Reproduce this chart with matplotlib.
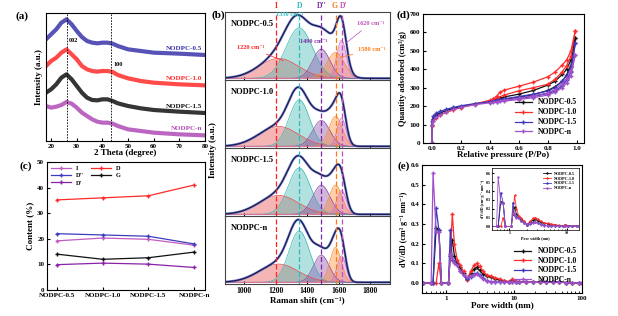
import matplotlib
matplotlib.use('Agg')
import matplotlib.pyplot as plt
import numpy as np

plt.rcParams['font.family'] = ['Liberation Serif', 'DejaVu Serif']
plt.rcParams['font.weight'] = 'bold'
plt.rcParams['axes.labelweight'] = 'bold'
plt.rcParams['axes.linewidth'] = 0.8
plt.rcParams['xtick.direction'] = 'in'
plt.rcParams['ytick.direction'] = 'in'
plt.rcParams['xtick.major.size'] = 2.5
plt.rcParams['ytick.major.size'] = 2.5
plt.rcParams['xtick.minor.size'] = 1.5
plt.rcParams['ytick.minor.size'] = 1.5
plt.rcParams['xtick.major.pad'] = 2
plt.rcParams['ytick.major.pad'] = 2

samples = ['NODPC-0.5', 'NODPC-1.0', 'NODPC-1.5', 'NODPC-n']
col_blue = '#3a34aa'
col_red = '#ff2a2a'
col_black = '#111111'
col_mag = '#b04cb8'

# ---- (a) XRD
xrd_x = [18, 20, 22, 24, 26, 28, 30, 32, 34, 36, 38, 40, 42, 44, 46, 50, 55, 60, 70, 80]
xrd_05 = [305, 320, 335, 355, 365, 350, 330, 312, 300, 295, 293, 295, 295, 292, 285, 275, 270, 265, 262, 258]
xrd_10 = [225, 240, 250, 265, 275, 260, 245, 225, 215, 210, 208, 210, 210, 207, 198, 188, 180, 175, 170, 167]
xrd_15 = [145, 155, 170, 190, 200, 185, 165, 145, 130, 123, 122, 125, 125, 120, 113, 105, 98, 93, 88, 84]
xrd_n = [105, 100, 103, 108, 117, 112, 100, 85, 75, 65, 58, 55, 55, 52, 45, 35, 30, 25, 20, 17]
xrd_label_y = [277, 187, 102, 37]

# ---- (b) Raman peak fits (center, height, width read per sample)
peak_names = ['I', 'D', "D''", 'G', "D'"]
peak_centers = [1220, 1350, 1490, 1580, 1618]
peak_lines = [1205, 1350, 1490, 1580, 1620]
peak_heights = [[60, 152, 88, 78, 115],
                [60, 140, 78, 90, 85],
                [57, 140, 88, 88, 72],
                [55, 155, 82, 105, 80]]
peak_widths = [[125, 85, 55, 55, 30],
               [125, 65, 55, 42, 28],
               [125, 70, 55, 40, 30],
               [125, 65, 50, 36, 28]]
peak_colors = ['#e84848', '#3cb8b0', '#8a4aa8', '#ff8a2a', '#d070c4']
peak_text = ['#ff2020', '#30b8c0', '#7a2aa0', '#ff7a10', '#c050b8']

# ---- (c) content
content_x = samples
c_I = [19.2, 20.3, 19.8, 17.5]
c_D = [35.2, 36.0, 36.8, 41.0]
c_D2 = [22.0, 21.5, 21.0, 18.0]
c_G = [14.0, 12.0, 12.6, 14.8]
c_D1 = [9.9, 10.5, 10.1, 8.8]

# ---- (d) N2 isotherms
p_ads = [0.0, 0.002, 0.01, 0.03, 0.06, 0.1, 0.15, 0.2, 0.3, 0.4, 0.45, 0.5, 0.6, 0.7, 0.8, 0.85, 0.9, 0.93, 0.96, 0.99]
p_des = [0.99, 0.96, 0.93, 0.9, 0.85, 0.8, 0.7, 0.6, 0.5, 0.47, 0.45, 0.42]
ads_05 = [0, 100, 130, 150, 163, 176, 188, 198, 212, 225, 231, 237, 248, 262, 285, 305, 335, 370, 420, 570]
des_05 = [570, 450, 400, 372, 335, 314, 285, 265, 250, 242, 237, 228]
ads_10 = [0, 90, 118, 138, 152, 166, 180, 192, 212, 232, 245, 260, 283, 300, 319, 345, 387, 420, 470, 610]
des_10 = [610, 500, 450, 423, 385, 359, 330, 308, 287, 275, 255, 240]
ads_15 = [0, 120, 145, 162, 172, 183, 193, 202, 214, 224, 228, 233, 242, 252, 268, 282, 310, 340, 385, 540]
des_15 = [540, 410, 365, 335, 300, 282, 265, 252, 240, 236, 232, 226]
ads_n = [0, 95, 120, 140, 153, 168, 182, 193, 208, 218, 222, 227, 236, 246, 260, 275, 300, 325, 365, 480]
des_n = [480, 390, 350, 322, 290, 272, 256, 244, 233, 229, 225, 220]

# ---- (e) pore size distribution
pore_w = [0.45, 0.60, 0.64, 0.71, 0.78, 0.85, 1.08, 1.15, 1.23, 1.32, 1.45, 1.6, 1.8, 2.0, 2.3, 2.55, 2.8,
          3.1, 3.5, 4.0, 4.6, 5.3, 6.2, 7.2, 8.3, 9.3, 10.5, 12, 15, 19, 24, 30, 37, 46, 58, 72, 90, 100]
psd_05 = [0, 0, 0, 0.28, 0.27, 0, 0, 0.14, 0.22, 0.14, 0.10, 0.08, 0.05, 0.02, 0.05, 0.07, 0.08, 0.065, 0.045,
          0.035, 0.03, 0.022, 0.015, 0.01, 0.008, 0.015, 0.008, 0.006, 0.005, 0.005, 0.004, 0.004, 0.008, 0.005,
          0.003, 0.002, 0.001, 0.001]
psd_10 = [0, 0, 0, 0, 0.10, 0, 0, 0.15, 0.35, 0.20, 0.12, 0.09, 0.06, 0.015, 0.06, 0.09, 0.10, 0.085, 0.06,
          0.04, 0.035, 0.028, 0.02, 0.012, 0.008, 0.02, 0.01, 0.006, 0.005, 0.005, 0.004, 0.005, 0.008, 0.005,
          0.003, 0.002, 0.001, 0.001]
psd_15 = [0, 0, 0, 0.38, 0.27, 0, 0, 0.27, 0.12, 0.11, 0.09, 0.06, 0.04, 0.02, 0.03, 0.045, 0.05, 0.04, 0.025,
          0.012, 0.008, 0.006, 0.005, 0.004, 0.004, 0.005, 0.004, 0.004, 0.004, 0.004, 0.004, 0.005, 0.008, 0.005,
          0.003, 0.002, 0.001, 0.001]
psd_n = [0, 0, 0.56, 0.26, 0.26, 0, 0, 0.15, 0.13, 0.10, 0.09, 0.06, 0.04, 0.03, 0.035, 0.04, 0.045, 0.035, 0.02,
         0.01, 0.007, 0.005, 0.005, 0.004, 0.004, 0.005, 0.004, 0.004, 0.004, 0.004, 0.004, 0.005, 0.008, 0.005,
         0.003, 0.002, 0.001, 0.001]

W, H = 618, 316


def box(l, t, r, b):
    return [l / W, 1 - b / H, (r - l) / W, (b - t) / H]


fig = plt.figure(figsize=(6.18, 3.16), dpi=100)

# ================= (a)
ax = fig.add_axes(box(46, 13, 205, 141))
xrd = [xrd_05, xrd_10, xrd_15, xrd_n]
cols = [col_blue, col_red, col_black, col_mag]
for i in range(4):
    ax.plot(xrd_x, xrd[i], color=cols[i], lw=3.0, alpha=0.85)
    ax.text(79, xrd_label_y[i], samples[i], color=cols[i], fontsize=5, ha='right', va='center')
ax.axvline(26, color='k', lw=0.6, ls=(0, (2, 1.5)))
ax.axvline(43.5, color='k', lw=0.6, ls=(0, (2, 1.5)))
ax.text(26.8, 297, '002', fontsize=4.5)
ax.text(44.3, 225, '100', fontsize=4.5)
ax.set_xlim(18, 80)
ax.set_ylim(0, 384)
ax.set_yticks([])
ax.set_xticks([20, 30, 40, 50, 60, 70, 80])
ax.tick_params(labelsize=5)
ax.set_xlabel('2 Theta (degree)', fontsize=6.5, labelpad=0)
ax.set_ylabel('Intensity (a.u.)', fontsize=6.5, labelpad=2)
fig.text(16 / W, 1 - 16 / H, '(a)', fontsize=8, va='center')

# ================= (c)
ax = fig.add_axes(box(47, 162, 205, 290))
xi = np.arange(len(content_x))
hI, = ax.plot(xi, c_I, color='#c05cc0', lw=0.9, marker='+', ms=2.5, label='I')
hD, = ax.plot(xi, c_D, color=col_red, lw=0.9, marker='+', ms=2.5, label='D')
hD2, = ax.plot(xi, c_D2, color='#3c3cc0', lw=0.9, marker='+', ms=2.5, label="D''")
hG, = ax.plot(xi, c_G, color=col_black, lw=0.9, marker='+', ms=2.5, label='G')
hD1, = ax.plot(xi, c_D1, color='#8a22a8', lw=0.9, marker='+', ms=2.5, label="D'")
ax.set_xlim(-0.22, 3.24)
ax.set_ylim(0, 50)
ax.set_xticks(xi)
ax.set_xticklabels(content_x)
ax.set_yticks([0, 10, 20, 30, 40, 50])
ax.tick_params(labelsize=5)
ax.set_ylabel('Content (%)', fontsize=6.5, labelpad=2)
ax.legend(handles=[hI, hD2, hD1, hD, hG], loc='upper left', ncol=2, fontsize=4.5, frameon=False,
          handlelength=3.2, columnspacing=1.2, labelspacing=0.3, borderaxespad=0.2)
fig.text(20 / W, 1 - 166 / H, '(c)', fontsize=8, va='center')

# ================= (b)
rx = np.arange(880, 1926, 2.0)
tops = [12, 80, 148, 216]
for k in range(4):
    ax = fig.add_axes(box(225, tops[k], 390, tops[k] + 68))
    total = np.zeros_like(rx)
    for j in range(5):
        g = peak_heights[k][j] * np.exp(-0.5 * ((rx - peak_centers[j]) / peak_widths[k][j]) ** 2)
        total += g
        ax.fill_between(rx, 0, g, color=peak_colors[j], alpha=0.4, lw=0)
        ax.plot(rx, g, color=peak_colors[j], lw=0.5)
    ax.plot(rx, total, color='#5a6ad0', lw=1.8, alpha=0.8)
    ax.plot(rx, total, color='#1c1c4a', lw=0.9)
    for j in range(5):
        ax.axvline(peak_lines[j], color=peak_text[j], lw=0.9, ls=(0, (4, 2)))
    ax.set_xlim(880, 1925)
    ax.set_ylim(-5, 200)
    ax.set_yticks([])
    ax.set_xticks([1000, 1200, 1400, 1600, 1800])
    for s in ax.spines.values():
        s.set_color('#444444')
    ax.text(920, 165, samples[k], fontsize=6, va='center')
    if k < 3:
        ax.tick_params(labelbottom=False)
    else:
        ax.tick_params(labelsize=5.5)
        ax.set_xlabel('Raman shift (cm⁻¹)', fontsize=6.5, labelpad=1)
    if k == 0:
        tx = [1205, 1352, 1490, 1572, 1632]
        for j in range(5):
            ax.text(tx[j], 206, peak_names[j], color=peak_text[j], fontsize=5.5, ha='center', va='bottom',
                    clip_on=False)
        ax.annotate('1220 cm⁻¹', xy=(1265, 50), xytext=(1040, 92), color=peak_text[0], fontsize=4.5,
                    ha='center', va='center', arrowprops=dict(arrowstyle='-', color=peak_text[0], lw=0.5))
        ax.annotate('1350 cm⁻¹', xy=(1345, 170), xytext=(1290, 192), color=peak_text[1], fontsize=4.5,
                    ha='center', va='center', arrowprops=dict(arrowstyle='-', color=peak_text[1], lw=0.5))
        ax.annotate('1490 cm⁻¹', xy=(1490, 85), xytext=(1440, 110), color=peak_text[2], fontsize=4.5,
                    ha='center', va='center', arrowprops=dict(arrowstyle='-', color=peak_text[2], lw=0.5))
        ax.annotate('1620 cm⁻¹', xy=(1630, 100), xytext=(1800, 165), color=peak_text[4], fontsize=4.5,
                    ha='center', va='center', arrowprops=dict(arrowstyle='-', color=peak_text[4], lw=0.5))
        ax.annotate('1580 cm⁻¹', xy=(1597, 62), xytext=(1812, 86), color=peak_text[3], fontsize=4.5,
                    ha='center', va='center', arrowprops=dict(arrowstyle='-', color=peak_text[3], lw=0.5))
fig.text(213 / W, 1 - 150 / H, 'Intensity (a.u.)', fontsize=6.5, rotation=90, ha='center', va='center')
fig.text(211 / W, 1 - 15 / H, '(b)', fontsize=8, va='center')

# ================= (d)
ax = fig.add_axes(box(423, 14, 584, 143))
ads = [ads_05, ads_10, ads_15, ads_n]
des = [des_05, des_10, des_15, des_n]
cols_d = [col_black, col_red, '#3c38c0', '#a050c8']
for i in range(4):
    ax.plot(p_ads, ads[i], color=cols_d[i], lw=0.9, marker='+', ms=2.5, label=samples[i])
    ax.plot(p_des, des[i], color=cols_d[i], lw=0.9, marker='+', ms=2.5)
ax.set_xlim(-0.06, 1.05)
ax.set_ylim(0, 700)
ax.set_xticks([0.0, 0.2, 0.4, 0.6, 0.8, 1.0])
ax.set_yticks(range(0, 701, 100))
ax.tick_params(labelsize=5)
ax.set_xlabel('Relative pressure (P/Po)', fontsize=6.5, labelpad=0)
ax.set_ylabel('Quantity adsorbed (cm³/g)', fontsize=6, labelpad=2)
ax.legend(loc='lower right', fontsize=5.5, frameon=False, handlelength=2.2, labelspacing=0.25,
          borderaxespad=0.5)
fig.text(396 / W, 1 - 15 / H, '(d)', fontsize=8, va='center')

# ================= (e)
ax = fig.add_axes(box(422, 165, 582, 293))
psd = [psd_05, psd_10, psd_15, psd_n]
for i in range(4):
    ax.plot(pore_w, psd[i], color=cols_d[i], lw=0.9, marker='+', ms=2.5, label=samples[i])
ax.set_xscale('log')
ax.set_xlim(0.44, 100)
ax.set_ylim(-0.05, 0.6)
ax.set_xticks([1, 10, 100])
ax.set_xticklabels(['1', '10', '100'])
ax.set_yticks([0.0, 0.1, 0.2, 0.3, 0.4, 0.5, 0.6])
ax.tick_params(labelsize=5)
ax.set_xlabel('Pore width (nm)', fontsize=6.5, labelpad=0)
ax.set_ylabel('dV/dD (cm³ g⁻¹ nm⁻¹)', fontsize=5.8, labelpad=2)
ax.legend(loc='lower right', fontsize=5.5, frameon=False, handlelength=2.2, labelspacing=0.2,
          borderaxespad=0.3, bbox_to_anchor=(1.0, 0.03))
fig.text(398 / W, 1 - 166 / H, '(e)', fontsize=8, va='center')

# inset
ins = fig.add_axes(box(492, 168, 579, 230))
for i in range(4):
    ins.plot(pore_w, psd[i], color=cols_d[i], lw=0.6, marker='+', ms=1.2, label=samples[i])
ins.set_xscale('log')
ins.set_xlim(0.5, 16)
ins.set_ylim(-0.04, 0.66)
ins.set_xticks([1, 10])
ins.set_xticklabels(['1', '10'])
ins.set_yticks([0.0, 0.1, 0.2, 0.3, 0.4, 0.5, 0.6])
ins.tick_params(labelsize=3, length=1.5, pad=1)
ins.tick_params(which='minor', length=1)
for s in ins.spines.values():
    s.set_linewidth(0.5)
ins.set_xlabel('Pore width (nm)', fontsize=3, labelpad=0.3)
ins.set_ylabel('dV/dD (cm³ g⁻¹ nm⁻¹)', fontsize=3, labelpad=0.5)
ins.legend(loc='upper right', fontsize=3, frameon=False, handlelength=2, labelspacing=0.2)

fig.savefig('out.png', dpi=100)
